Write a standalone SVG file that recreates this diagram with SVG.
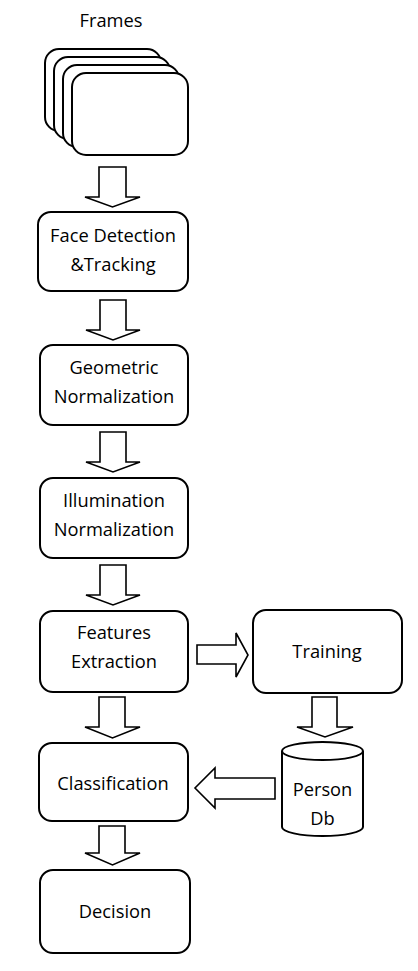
<svg xmlns="http://www.w3.org/2000/svg" width="418" height="971" viewBox="0 0 418 971">
<style>
.b{fill:#fff;stroke:#000;stroke-width:2}
.a{fill:#fff;stroke:#000;stroke-width:1.6;stroke-linejoin:miter}
text{font-family:"Open Sans","Liberation Sans",sans-serif;font-size:18.3px;fill:#000;text-anchor:middle}
</style>
<rect width="418" height="971" fill="#fff"/>
<g id="frames">
<text x="111" y="27">Frames</text>
<rect class="b" x="45" y="49" width="116" height="82" rx="14"/>
<rect class="b" x="54" y="57" width="116" height="82" rx="14"/>
<rect class="b" x="63" y="65" width="116" height="82" rx="14"/>
<rect class="b" x="72" y="73" width="116" height="82" rx="14"/>
</g>
<g id="face">
<rect class="b" x="38" y="212" width="150" height="79" rx="13"/>
<text x="113" y="242">Face Detection</text>
<text x="113" y="271">&amp;Tracking</text>
</g>
<g id="geometric">
<rect class="b" x="40" y="345" width="148" height="80" rx="13"/>
<text x="114" y="374">Geometric</text>
<text x="114" y="403">Normalization</text>
</g>
<g id="illumination">
<rect class="b" x="40" y="478" width="148" height="80" rx="13"/>
<text x="114" y="507">Illumination</text>
<text x="114" y="536">Normalization</text>
</g>
<g id="features">
<rect class="b" x="40" y="611" width="148" height="81" rx="13"/>
<text x="114" y="639">Features</text>
<text x="114" y="668">Extraction</text>
</g>
<g id="training">
<rect class="b" x="253" y="610" width="149" height="83" rx="13"/>
<text x="327" y="658">Training</text>
</g>
<g id="persondb">
<path class="b" d="M282,751 L282,827 A40.5,9 0 0 0 363,827 L363,751"/>
<ellipse class="b" cx="322.5" cy="751" rx="40.5" ry="9"/>
<text x="322.5" y="796">Person</text>
<text x="322.5" y="825">Db</text>
</g>
<g id="classification">
<rect class="b" x="39" y="743" width="149" height="78" rx="13"/>
<text x="113" y="790">Classification</text>
</g>
<g id="decision">
<rect class="b" x="40" y="870" width="150" height="83" rx="13"/>
<text x="115" y="918">Decision</text>
</g>
<g id="connectors">
<path class="a" d="M99,167 H126 V197 H140 L112.5,207 L85,197 H99 Z"/>
<path class="a" d="M100,300 H126 V330 H140 L113,340 L86,330 H100 Z"/>
<path class="a" d="M100,432 H126 V462 H140 L113,472 L86,462 H100 Z"/>
<path class="a" d="M100,565 H126 V595 H140 L113,605 L86,595 H100 Z"/>
<path class="a" d="M99,697 H125 V727 H140 L112.5,738 L85,727 H99 Z"/>
<path class="a" d="M99,826 H125 V853 H140 L112.5,865 L85,853 H99 Z"/>
<path class="a" d="M197,645 H236 V633 L248,655 L236,677 V664 H197 Z"/>
<path class="a" d="M312,697 H337 V727 H353 L325,737 L297,727 H312 Z"/>
<path class="a" d="M275,778 H215 V768 L195,788 L215,808 V799 H275 Z"/>
</g>
</svg>
